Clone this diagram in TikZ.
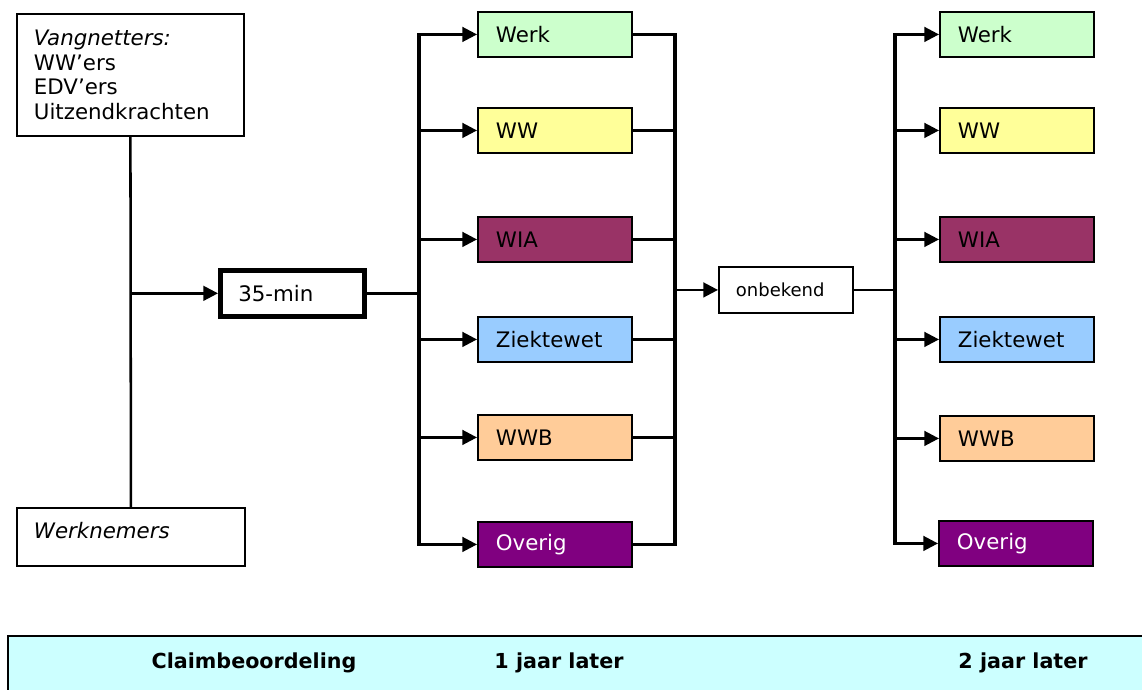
\documentclass[tikz,border=0pt]{standalone}
\usepackage{fontspec}
\setmainfont{DejaVu Sans}
\usetikzlibrary{arrows.meta}
\definecolor{werkgroen}{HTML}{CCFFCC}
\definecolor{wwgeel}{HTML}{FFFF99}
\definecolor{wiarood}{HTML}{993366}
\definecolor{ziekblauw}{HTML}{99CCFF}
\definecolor{wwboranje}{HTML}{FFCC99}
\definecolor{overigpaars}{HTML}{800080}
\definecolor{bandcyaan}{HTML}{CCFFFF}
\tikzstyle{every node}=[font=\fontsize{16}{17.6}\selectfont]
\tikzstyle{box}=[draw=black,line width=1.4pt,anchor=north west,align=left,
  inner xsep=13.5pt,text width=88.5pt,minimum height=33.75pt]
\tikzstyle{conn}=[line width=1.9pt]
\tikzstyle{bus}=[line width=2.3pt,line cap=rect]
\tikzstyle{pijl}=[conn,-{Triangle[length=11pt,width=11pt]}]

\begin{document}
\begin{tikzpicture}[x=0.75pt,y=-0.75pt]
  \useasboundingbox (0,0) rectangle (1142,689);

  % groepen
  \node [box,inner xsep=12.75pt,text width=144.75pt,minimum height=91.5pt,
    font=\fontsize{16}{18.3}\selectfont] (vang) at (16,13)
    {\textit{Vangnetters:}\\WW’ers\\EDV’ers\\Uitzendkrachten};
  \node [box,inner xsep=12.75pt,text width=145.5pt,minimum height=43.5pt] (werkn) at (16,507)
    {\textit{Werknemers}\\[-8pt]\mbox{}};
  \node [box,line width=3.5pt,text width=81pt,minimum height=34.5pt] (min35) at (218,268) {35-min};

  % na claimbeoordeling
  \node [box,fill=werkgroen] (mWerk) at (477,11) {Werk};
  \node [box,fill=wwgeel] (mWW) at (477,107) {WW};
  \node [box,fill=wiarood] (mWIA) at (477,216) {WIA};
  \node [box,fill=ziekblauw] (mZiek) at (477,316) {Ziektewet};
  \node [box,fill=wwboranje] (mWWB) at (477,414) {WWB};
  \node [box,fill=overigpaars,text=white] (mOverig) at (477,521) {Overig};

  \node [box,font=\fontsize{13.5}{15}\selectfont,inner xsep=12.75pt,text width=75pt,minimum height=34.5pt]
    (onb) at (718,266) {onbekend};

  % 2 jaar later
  \node [box,fill=werkgroen] (rWerk) at (939,11) {Werk};
  \node [box,fill=wwgeel] (rWW) at (939,107) {WW};
  \node [box,fill=wiarood] (rWIA) at (939,216) {WIA};
  \node [box,fill=ziekblauw] (rZiek) at (939,316) {Ziektewet};
  \node [box,fill=wwboranje] (rWWB) at (939,415) {WWB};
  \node [box,fill=overigpaars,text=white] (rOverig) at (938,520) {Overig};

  % verbindingen
  \draw [conn] (vang.south) -- (werkn.north);
  \coordinate (j1) at (vang.south |- min35.west);
  \draw [pijl] (j1) -- (min35.west);

  \coordinate (b1) at (419,0);
  \draw [conn] (min35.east) -- (b1 |- min35.east);
  \draw [bus] (b1 |- mWerk.west) -- (b1 |- mOverig.west);
  \foreach \n in {Werk,WW,WIA,Ziek,WWB,Overig}
    \draw [pijl] (b1 |- m\n.west) -- (m\n.west);

  \coordinate (b2) at (675,0);
  \draw [bus] (b2 |- mWerk.east) -- (b2 |- mOverig.east);
  \foreach \n in {Werk,WW,WIA,Ziek,WWB,Overig}
    \draw [conn] (m\n.east) -- (b2 |- m\n.east);
  \draw [pijl] (b2 |- onb.west) -- (onb.west);

  \coordinate (b3) at (895,0);
  \draw [conn] (onb.east) -- (b3 |- onb.east);
  \draw [bus] (b3 |- rWerk.west) -- (b3 |- rOverig.west);
  \foreach \n in {Werk,WW,WIA,Ziek,WWB,Overig}
    \draw [pijl] (b3 |- r\n.west) -- (r\n.west);

  % tijdbalk
  \node [draw=black,line width=1.4pt,fill=bandcyaan,anchor=north west,minimum width=858pt,
    minimum height=45pt] (band) at (7,635) {};
  \node [font=\bfseries\fontsize{15.5}{17.25}\selectfont] (t1) at (254,663) {Claimbeoordeling};
  \node [font=\bfseries\fontsize{15.5}{17.25}\selectfont] (t2) at (559,663) {1 jaar later};
  \node [font=\bfseries\fontsize{15.5}{17.25}\selectfont] (t3) at (1023,663) {2 jaar later};
\end{tikzpicture}
\end{document}
